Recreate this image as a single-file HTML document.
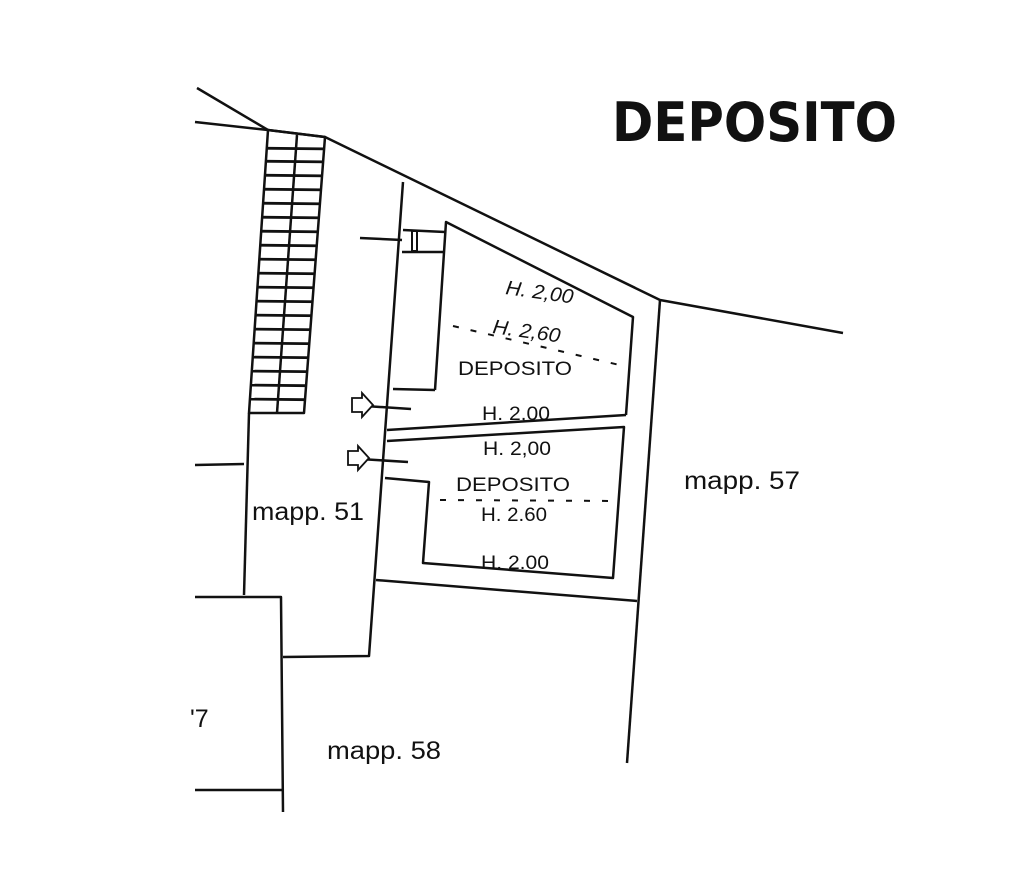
<!DOCTYPE html>
<html><head><style>
html,body{margin:0;padding:0;background:#fff;}
svg{display:block}
text{font-family:"Liberation Sans",sans-serif;fill:#111}
</style></head><body>
<svg width="1024" height="882" viewBox="0 0 1024 882" xmlns="http://www.w3.org/2000/svg">
<defs>
<clipPath id="st"><polygon points="268,130 325,137 304,413 249,413"/></clipPath>
</defs>
<g stroke="#111" stroke-width="2.5" fill="none" stroke-linejoin="round">
<polyline points="197,88 268,130 325,137 660,300 843,333"/>
<line x1="195" y1="122" x2="268" y2="130"/>
<polygon points="268,130 325,137 304,413 249,413"/>
<line x1="297" y1="135" x2="277" y2="413"/>
<g clip-path="url(#st)" stroke-width="2.8">
<line x1="240" y1="148" x2="340" y2="149"/><line x1="240" y1="161" x2="340" y2="162"/>
<line x1="240" y1="175" x2="340" y2="176"/><line x1="240" y1="189" x2="340" y2="190"/>
<line x1="240" y1="203" x2="340" y2="204"/><line x1="240" y1="217" x2="340" y2="218"/>
<line x1="240" y1="231" x2="340" y2="232"/><line x1="240" y1="245" x2="340" y2="246"/>
<line x1="240" y1="259" x2="340" y2="260"/><line x1="240" y1="273" x2="340" y2="274"/>
<line x1="240" y1="287" x2="340" y2="288"/><line x1="240" y1="301" x2="340" y2="302"/>
<line x1="240" y1="315" x2="340" y2="316"/><line x1="240" y1="329" x2="340" y2="330"/>
<line x1="240" y1="343" x2="340" y2="344"/><line x1="240" y1="357" x2="340" y2="358"/>
<line x1="240" y1="371" x2="340" y2="372"/><line x1="240" y1="385" x2="340" y2="386"/>
<line x1="240" y1="399" x2="340" y2="400"/>
</g>
<polyline points="249,413 244,595"/>
<line x1="195" y1="465" x2="244" y2="464"/>
<polyline points="195,597 281,597 283,812"/>
<line x1="195" y1="790" x2="283" y2="790"/>
<polyline points="283,657 369,656 403,182"/>
<line x1="360" y1="238" x2="402" y2="240"/>
<polyline points="403,230 445,232"/><polyline points="402,252 445,252"/>
<rect x="412" y="231" width="5" height="20" stroke-width="2"/>
<polyline points="435,390 446,222 633,317 626,415"/>
<polyline points="393,389 435,390"/>
<line x1="387" y1="430" x2="626" y2="415"/>
<line x1="660" y1="300" x2="627" y2="763"/>
<polyline points="387,441 624,427 613,578 423,563 429,482 385,478"/>
<line x1="376" y1="580" x2="637" y2="601"/>
<line x1="365" y1="406" x2="411" y2="409"/>
<line x1="360" y1="459" x2="408" y2="462"/>
</g>
<g stroke="#111" stroke-width="1.8" fill="#fff">
<path d="M352,398 L362,398 L362,393 L373,405 L362,417 L362,412 L352,412 Z"/>
<path d="M348,451 L358,451 L358,446 L369,458 L358,470 L358,465 L348,465 Z"/>
</g>
<g stroke="#111" stroke-width="2" stroke-dasharray="6,12" fill="none">
<line x1="453" y1="326" x2="628" y2="367"/>
<line x1="440" y1="500" x2="618" y2="501"/>
</g>
<text x="612" y="141" font-size="54" font-weight="bold" style="font-family:'DejaVu Sans','Liberation Sans',sans-serif" textLength="285" lengthAdjust="spacingAndGlyphs">DEPOSITO</text>
<g font-size="20" font-style="italic">
<text x="505" y="294" transform="rotate(8 505 294)" textLength="68" lengthAdjust="spacingAndGlyphs">H. 2,00</text>
<text x="492" y="333" transform="rotate(8 492 333)" textLength="68" lengthAdjust="spacingAndGlyphs">H. 2,60</text>
</g>
<g font-size="19">
<text x="458" y="375" textLength="114" lengthAdjust="spacingAndGlyphs">DEPOSITO</text>
<text x="482" y="420" textLength="68" lengthAdjust="spacingAndGlyphs">H. 2,00</text>
<text x="483" y="455" textLength="68" lengthAdjust="spacingAndGlyphs">H. 2,00</text>
<text x="456" y="491" textLength="114" lengthAdjust="spacingAndGlyphs">DEPOSITO</text>
<text x="481" y="521" textLength="66" lengthAdjust="spacingAndGlyphs">H. 2.60</text>
<text x="481" y="569" textLength="68" lengthAdjust="spacingAndGlyphs">H. 2.00</text>
</g>
<g font-size="25">
<text x="252" y="520" textLength="112" lengthAdjust="spacingAndGlyphs">mapp. 51</text>
<text x="684" y="489" textLength="116" lengthAdjust="spacingAndGlyphs">mapp. 57</text>
<text x="327" y="759" textLength="114" lengthAdjust="spacingAndGlyphs">mapp. 58</text>
<text x="190" y="727">'7</text>
</g>
</svg>
</body></html>
